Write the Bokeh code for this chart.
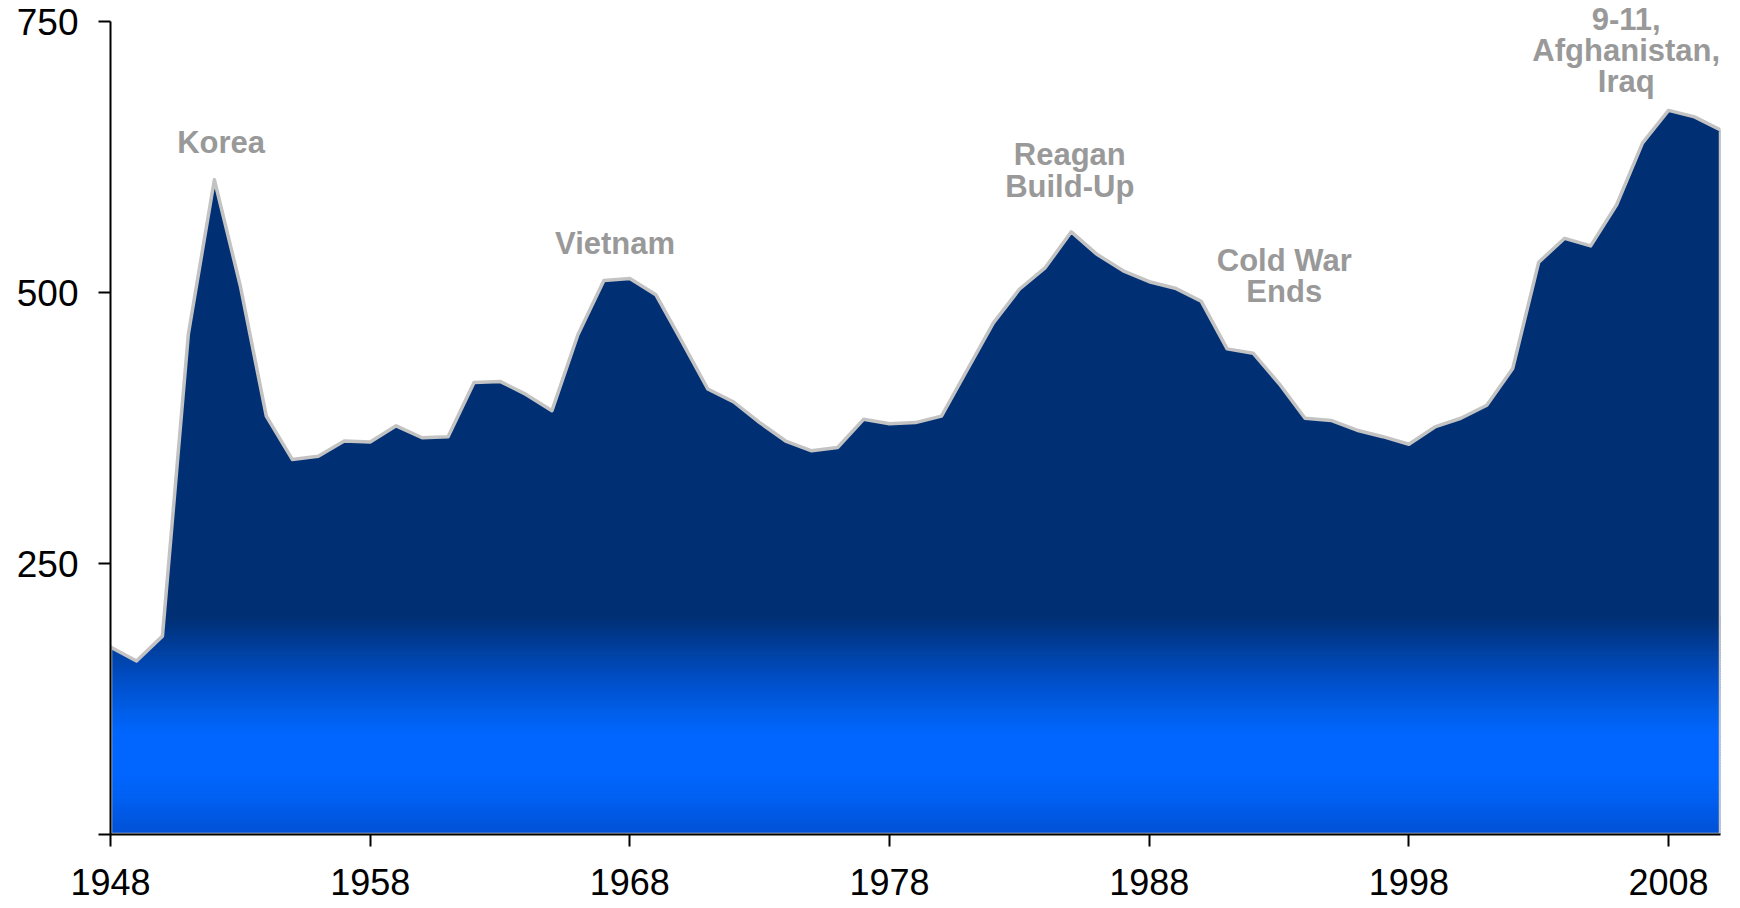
import numpy as np
from bokeh.plotting import figure
from bokeh.models import Range1d, FixedTicker, Label
from bokeh.embed import file_html
from bokeh.resources import INLINE

# ---------------- data ----------------
years = list(range(1948, 2011))
spending = [173, 160, 183, 462, 604, 506, 386, 346, 349, 363,
            362, 377, 366, 367, 417, 418, 406, 391, 461, 511,
            513, 498, 455, 411, 399, 380, 363, 354, 357, 383,
            379, 380, 386, 429, 472, 503, 523, 556, 535, 520,
            510, 504, 492, 448, 444, 416, 384, 382, 373, 367,
            360, 376, 384, 396, 430, 528, 550, 543, 581, 638,
            668, 662, 650]
x_ticks = [1948, 1958, 1968, 1978, 1988, 1998, 2008]
y_ticks = [0, 250, 500, 750]

ann_text = ["Korea", "Vietnam", "Reagan", "Build-Up", "Cold War", "Ends",
            "9-11,", "Afghanistan,", "Iraq"]
ann_year = [1952.26, 1967.43, 1984.94, 1984.94, 1993.2, 1993.2,
            2006.37, 2006.37, 2006.37]
ann_value = [638.0, 545.5, 627.5, 598.0, 529.5, 500.5,
             752.5, 723.5, 694.5]

# ---------------- style ----------------
NAVY = (0, 47, 116)
grad_stops_v = [0, 31, 56, 93, 114, 139, 170, 200]
grad_stops_c = [(0, 80, 212), (0, 95, 240), (0, 102, 255), (0, 102, 255),
                (0, 94, 232), (0, 80, 204), (0, 64, 160), NAVY]
GRAD_TOP = 200
STEP = 2.5
OVERLAP = 1.0
Y_TOP = 769.4   # room above the 750 tick for the top annotation


def color_at(v):
    r = np.interp(v, grad_stops_v, [c[0] for c in grad_stops_c])
    g = np.interp(v, grad_stops_v, [c[1] for c in grad_stops_c])
    b = np.interp(v, grad_stops_v, [c[2] for c in grad_stops_c])
    return "#%02x%02x%02x" % (int(round(r)), int(round(g)), int(round(b)))


def band_outline(xs, ys, lo, hi):
    """Exact upper edge of the area under the polyline, clipped to [lo, hi]."""
    ox, oy = [], []
    for i in range(len(xs) - 1):
        x0, y0, x1, y1 = xs[i], ys[i], xs[i + 1], ys[i + 1]
        ox.append(x0)
        oy.append(min(max(y0, lo), hi))
        ts = []
        for lev in (lo, hi):
            if (y0 - lev) * (y1 - lev) < 0:
                ts.append((lev - y0) / (y1 - y0))
        for t in sorted(ts):
            ox.append(x0 + t * (x1 - x0))
            oy.append(min(max(y0 + t * (y1 - y0), lo), hi))
    ox.append(xs[-1])
    oy.append(min(max(ys[-1], lo), hi))
    return ox, oy


p = figure(frame_width=1610, frame_height=834,
           x_range=Range1d(1948, 2010), y_range=Range1d(0, Y_TOP),
           output_backend="svg", toolbar_location=None,
           min_border_left=110, min_border_right=10,
           min_border_top=0, min_border_bottom=74,
           background_fill_color="white", border_fill_color="white")

# gradient bands (bottom -> top), each clipped to the data curve
lo = 0.0
while lo < GRAD_TOP:
    hi = lo + STEP
    bx, by = band_outline(years, spending, lo, hi + OVERLAP)
    p.varea(x=bx, y1=[lo] * len(bx), y2=by, fill_color=color_at(lo + STEP / 2))
    lo = hi
bx, by = band_outline(years, spending, GRAD_TOP, 1000)
p.varea(x=bx, y1=[GRAD_TOP] * len(bx), y2=by, fill_color="#%02x%02x%02x" % NAVY)

# outline of the area
p.patch(x=[years[0]] + years + [years[-1]], y=[0] + spending + [0],
        fill_color=None, line_color="#c3c3c3", line_width=3.5, line_join="round")

# axes
p.xaxis.ticker = FixedTicker(ticks=x_ticks)
p.yaxis.ticker = FixedTicker(ticks=y_ticks)
p.yaxis.bounds = (y_ticks[0], y_ticks[-1])
p.yaxis.major_label_overrides = {0: ""}
for ax in (p.xaxis[0], p.yaxis[0]):
    ax.axis_line_color = "black"
    ax.axis_line_width = 2
    ax.major_tick_line_color = "black"
    ax.major_tick_line_width = 2
    ax.major_tick_out = 12
    ax.major_tick_in = 0
    ax.minor_tick_out = 0
    ax.minor_tick_in = 0
    ax.major_label_text_font = "Liberation Sans"
    ax.major_label_text_color = "black"
p.yaxis.major_label_text_font_size = "37px"
p.xaxis.major_label_text_font_size = "36px"
p.yaxis.major_label_standoff = 20
p.xaxis.major_label_standoff = 22
p.xgrid.visible = False
p.ygrid.visible = False
p.outline_line_color = None

for t, xv, yv in zip(ann_text, ann_year, ann_value):
    p.add_layout(Label(x=xv, y=yv, text=t, text_align="center",
                       text_baseline="alphabetic",
                       text_font="Liberation Sans", text_font_style="bold",
                       text_font_size="31px", text_color="#999999"))

open("out.html", "w").write(file_html(p, INLINE))
